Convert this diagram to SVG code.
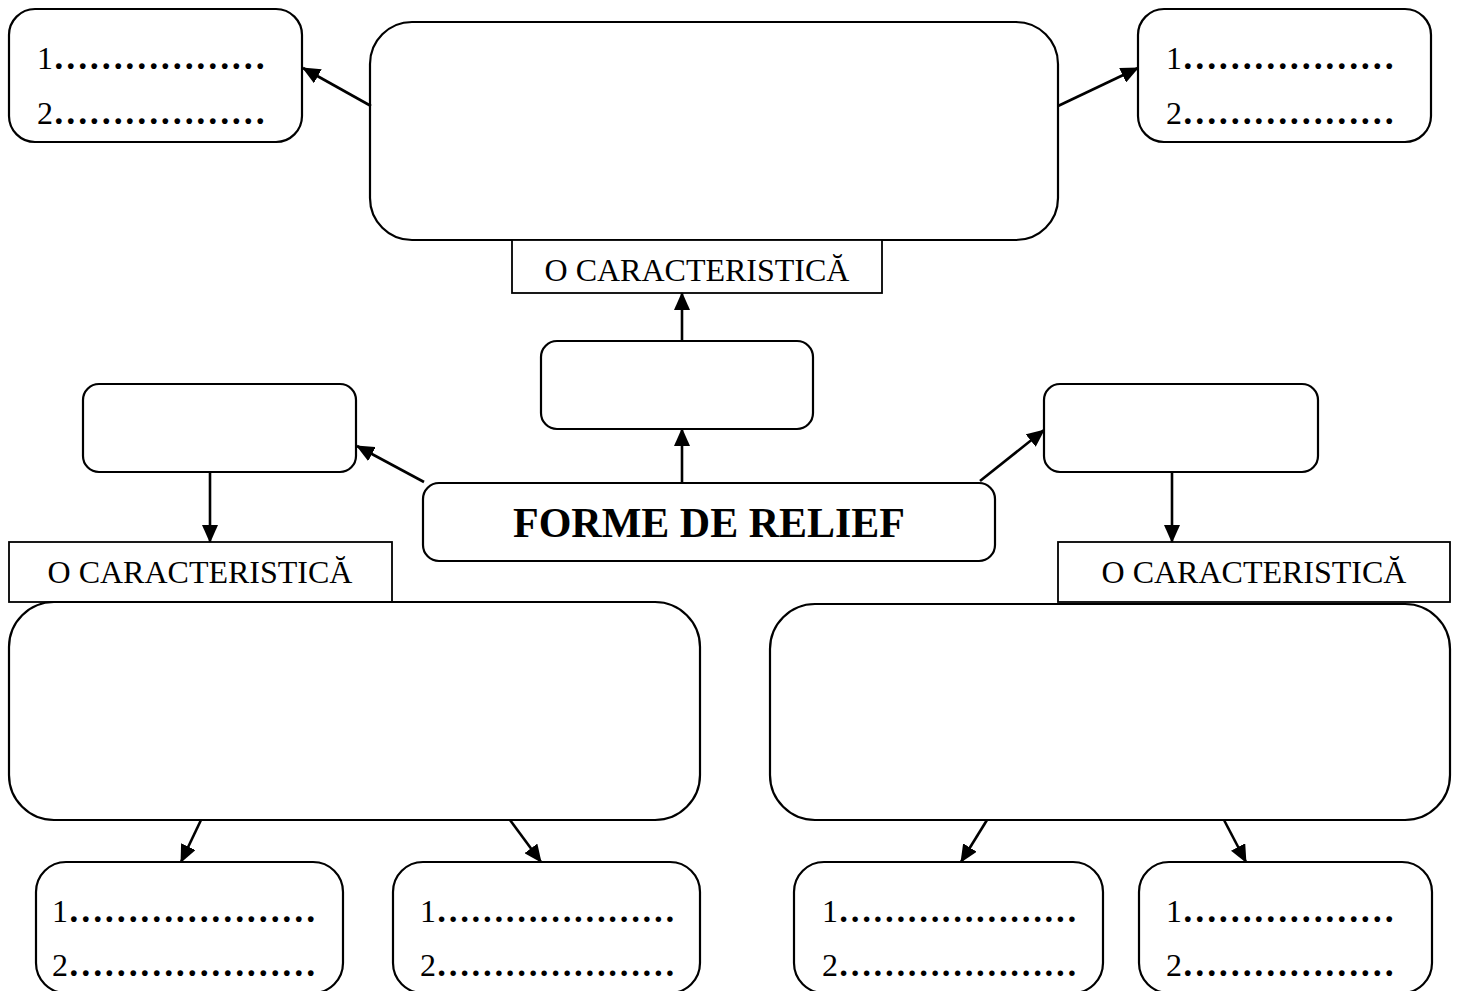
<svg xmlns="http://www.w3.org/2000/svg" width="1459" height="991" viewBox="0 0 1459 991">
<style>
.rb{fill:#fff;stroke:#000;stroke-width:2.2}
.sq{fill:#fff;stroke:#000;stroke-width:1.8}
.c{stroke:#000;stroke-width:2.6;fill:none;marker-end:url(#ah)}
.t{font-family:"Liberation Serif","Times New Roman",serif;fill:#000}
.n{font-size:32px}
.d{font-size:35.5px;font-weight:bold}
.d2{font-size:34.2px;font-weight:bold}
.lab{font-size:32px;text-anchor:middle}
.title{font-size:42px;font-weight:bold;text-anchor:middle}
</style>
<defs>
<marker id="ah" markerUnits="userSpaceOnUse" markerWidth="18" markerHeight="16" viewBox="0 0 18 16" refX="17" refY="8" orient="auto">
<path d="M0,0 L18,8 L0,16 Z" fill="#000"/>
</marker>
</defs>
<rect width="1459" height="991" fill="#fff"/>

<g id="top-main"><rect class="rb" x="370" y="22" width="688" height="218" rx="42"/></g>
<g id="top-left-list"><rect class="rb" x="9" y="9" width="293" height="133" rx="26"/>
<text class="t" x="37" y="69"><tspan class="n">1</tspan><tspan class="d">………………</tspan></text>
<text class="t" x="37" y="124"><tspan class="n">2</tspan><tspan class="d">………………</tspan></text></g>
<g id="top-right-list"><rect class="rb" x="1138" y="9" width="293" height="133" rx="26"/>
<text class="t" x="1166" y="69"><tspan class="n">1</tspan><tspan class="d">………………</tspan></text>
<text class="t" x="1166" y="124"><tspan class="n">2</tspan><tspan class="d">………………</tspan></text></g>
<g id="top-label"><rect class="sq" x="512" y="240" width="370" height="53"/>
<text class="t lab" x="697" y="281">O CARACTERISTICĂ</text></g>
<g id="mid-box"><rect class="rb" x="541" y="341" width="272" height="88" rx="16"/></g>
<g id="left-box"><rect class="rb" x="83" y="384" width="273" height="88" rx="16"/></g>
<g id="right-box"><rect class="rb" x="1044" y="384" width="274" height="88" rx="16"/></g>
<g id="center"><rect class="rb" x="423" y="483" width="572" height="78" rx="16"/>
<text class="t title" x="709" y="537">FORME DE RELIEF</text></g>
<g id="left-label"><rect class="sq" x="9" y="542" width="383" height="60"/>
<text class="t lab" x="200" y="583">O CARACTERISTICĂ</text></g>
<g id="right-label"><rect class="sq" x="1058" y="542" width="392" height="60"/>
<text class="t lab" x="1254" y="583">O CARACTERISTICĂ</text></g>
<g id="bottom-left-main"><rect class="rb" x="9" y="602" width="691" height="218" rx="45"/></g>
<g id="bottom-right-main"><rect class="rb" x="770" y="604" width="680" height="216" rx="45"/></g>
<g id="bl1"><rect class="rb" x="36" y="862" width="307" height="131" rx="30"/>
<text class="t" x="52" y="922"><tspan class="n">1</tspan><tspan class="d">…………………</tspan></text>
<text class="t" x="52" y="976"><tspan class="n">2</tspan><tspan class="d">…………………</tspan></text></g>
<g id="bl2"><rect class="rb" x="393" y="862" width="307" height="131" rx="30"/>
<text class="t" x="420" y="922"><tspan class="n">1</tspan><tspan class="d2">…………………</tspan></text>
<text class="t" x="420" y="976"><tspan class="n">2</tspan><tspan class="d2">…………………</tspan></text></g>
<g id="br1"><rect class="rb" x="794" y="862" width="309" height="131" rx="30"/>
<text class="t" x="822" y="922"><tspan class="n">1</tspan><tspan class="d2">…………………</tspan></text>
<text class="t" x="822" y="976"><tspan class="n">2</tspan><tspan class="d2">…………………</tspan></text></g>
<g id="br2"><rect class="rb" x="1139" y="862" width="293" height="131" rx="30"/>
<text class="t" x="1166" y="922"><tspan class="n">1</tspan><tspan class="d">………………</tspan></text>
<text class="t" x="1166" y="976"><tspan class="n">2</tspan><tspan class="d">………………</tspan></text></g>

<g id="connectors">
<line class="c" x1="371" y1="106" x2="303" y2="68"/>
<line class="c" x1="1058" y1="106" x2="1138" y2="68"/>
<line class="c" x1="682" y1="340" x2="682" y2="293"/>
<line class="c" x1="682" y1="482" x2="682" y2="429"/>
<line class="c" x1="424" y1="482" x2="357" y2="446"/>
<line class="c" x1="980" y1="481" x2="1044" y2="430"/>
<line class="c" x1="210" y1="472" x2="210" y2="542"/>
<line class="c" x1="1172" y1="472" x2="1172" y2="542"/>
<line class="c" x1="201" y1="820" x2="181" y2="862"/>
<line class="c" x1="510" y1="820" x2="541" y2="862"/>
<line class="c" x1="987" y1="820" x2="961" y2="862"/>
<line class="c" x1="1224" y1="820" x2="1246" y2="862"/>
</g>
</svg>
